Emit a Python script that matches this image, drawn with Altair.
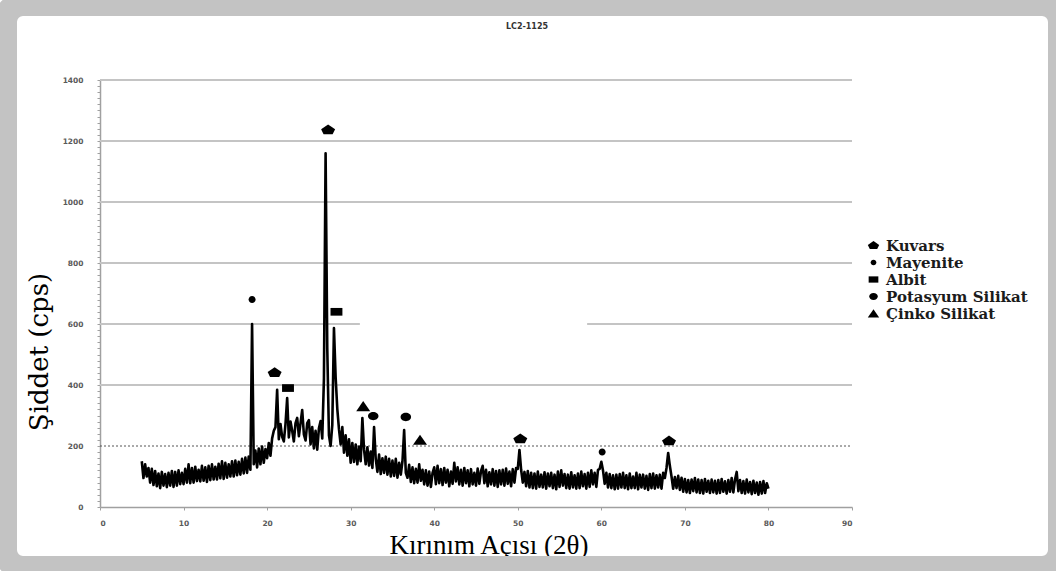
import altair as alt
import pandas as pd

# ---- XRD pattern of sample LC2-1125, 0.2 degree steps from 5.0 degrees 2-theta ----
start_2theta = 5.0
step_2theta = 0.2

counts_05_20 = [
    150, 95, 140, 100, 128,
    80, 125, 72, 118, 68,
    110, 62, 115, 70, 108,
    65, 112, 70, 118, 66,
    115, 70, 120, 75, 112,
    75, 125, 80, 140, 78,
    128, 80, 132, 85, 122,
    84, 135, 86, 130, 82,
    135, 88, 140, 90, 132,
    90, 142, 94, 150, 92,
    145, 96, 140, 100, 150,
    100, 152, 104, 148, 106,
    158, 110, 162, 112, 165,
    122, 600, 140, 185, 130,
    192, 140, 198, 145, 190,
]
counts_20_35 = [
    160, 210, 168, 225, 250,
    262, 384, 222, 272, 230,
    215, 272, 357, 228, 280,
    250, 215, 275, 292, 232,
    275, 318, 238, 218, 275,
    285, 205, 262, 192, 250,
    188, 258, 282, 225, 420,
    1160, 520, 235, 200, 268,
    587, 426, 322, 255, 205,
    262, 178, 235, 168, 222,
    145, 210, 148, 205, 140,
    198, 150, 292, 188, 140,
    196, 136, 182, 128, 262,
    158, 115, 172, 108, 160,
    112, 165, 106, 158, 100,
]
counts_35_50 = [
    152, 102, 158, 96, 145,
    106, 150, 252, 112, 96,
    138, 82, 130, 78, 125,
    80, 140, 86, 122, 74,
    120, 70, 116, 66, 112,
    130, 75, 135, 78, 124,
    72, 128, 80, 122, 68,
    116, 76, 145, 84, 130,
    74, 122, 70, 128, 78,
    120, 68, 124, 74, 112,
    70, 126, 76, 118, 135,
    78, 122, 68, 114, 74,
    124, 70, 118, 66, 120,
    74, 122, 70, 126, 76,
    116, 68, 124, 80, 128,
]
counts_50_65 = [
    125, 187, 122, 80, 115,
    68, 118, 64, 112, 62,
    110, 60, 116, 66, 106,
    64, 114, 60, 110, 68,
    112, 62, 106, 58, 116,
    66, 120, 70, 108, 62,
    106, 60, 114, 64, 104,
    60, 110, 62, 116, 68,
    108, 60, 112, 66, 120,
    74, 112, 66, 122, 125,
    148, 120, 76, 112, 64,
    108, 62, 104, 58, 106,
    60, 108, 64, 112, 62,
    104, 58, 110, 62, 100,
    62, 112, 58, 106, 64,
]
counts_65_80 = [
    106, 60, 102, 56, 108,
    62, 110, 60, 104, 64,
    106, 60, 112, 95, 128,
    177, 135, 100, 60, 98,
    62, 102, 56, 96, 50,
    92, 48, 88, 46, 90,
    52, 95, 48, 90, 46,
    88, 44, 92, 50, 86,
    46, 90, 48, 86, 44,
    88, 46, 92, 50, 84,
    44, 88, 50, 95, 48,
    90, 115, 52, 88, 46,
    85, 44, 90, 48, 82,
    42, 86, 46, 80, 40,
    82, 44, 85, 46, 78,
    60,
]

counts = counts_05_20 + counts_20_35 + counts_35_50 + counts_50_65 + counts_65_80
two_theta = [round(start_2theta + step_2theta * i, 1) for i in range(len(counts))]
pattern = pd.DataFrame({"two_theta": two_theta, "cps": counts})

# ---- identified phases and where their symbols sit ----
phases = ["Kuvars", "Mayenite", "Albit", "Potasyum Silikat", "Çinko Silikat"]
phase_symbols = [
    "M0,-0.8 L1,-0.1 L0.65,0.6 L-0.65,0.6 L-1,-0.1 Z",
    "M-0.5,0 A0.5,0.5 0 1,1 0.5,0 A0.5,0.5 0 1,1 -0.5,0 Z",
    "M-0.85,-0.55 L0.85,-0.55 L0.85,0.55 L-0.85,0.55 Z",
    "M-0.75,0 A0.75,0.6 0 1,1 0.75,0 A0.75,0.6 0 1,1 -0.75,0 Z",
    "M0,-0.75 L1,0.7 L-1,0.7 Z",
]

marker_phase = ["Mayenite", "Kuvars", "Albit", "Kuvars", "Albit", "Çinko Silikat",
                "Potasyum Silikat", "Potasyum Silikat", "Çinko Silikat", "Kuvars",
                "Mayenite", "Kuvars"]
marker_2theta = [18.2, 20.9, 22.5, 27.3, 28.3, 31.5, 32.7, 36.6, 38.3, 50.3, 60.1, 68.1]
marker_cps = [680, 440, 390, 1236, 640, 330, 298, 295, 220, 223, 180, 216]
markers = pd.DataFrame({"two_theta": marker_2theta, "cps": marker_cps, "phase": marker_phase})

# ---- horizontal gridlines (the 600 line is interrupted in the middle) ----
grid_level = [400, 600, 600, 800, 1000, 1200, 1400]
grid_from = [0, 0, 58.3, 0, 0, 0, 0]
grid_to = [90, 31.1, 90, 90, 90, 90, 90]
grid = pd.DataFrame({"level": grid_level, "x0": grid_from, "x1": grid_to})
dotted = pd.DataFrame({"level": [200], "x0": [0], "x1": [90]})

x_ticks = list(range(0, 91, 10))
y_ticks = list(range(0, 1401, 20))

xs = alt.Scale(domain=[0, 90], nice=False)
ys = alt.Scale(domain=[0, 1400], nice=False)

x_axis = alt.Axis(values=x_ticks, format="d", title=None, grid=False,
                  tickSize=3, tickColor="#a0a0a0", domainColor="#a0a0a0", domainWidth=1.5,
                  labelFont="DejaVu Sans", labelFontSize=7.5, labelFontWeight="bold",
                  labelColor="#5a5a5a", labelPadding=9)
y_axis = alt.Axis(values=y_ticks, title=None, grid=False,
                  labelExpr="datum.value % 200 == 0 ? format(datum.value, 'd') : ''",
                  tickSize=3, tickColor="#a0a0a0", domainColor="#a0a0a0", domainWidth=1.5,
                  labelFont="DejaVu Sans", labelFontSize=7.5, labelFontWeight="bold",
                  labelColor="#5a5a5a", labelPadding=14)

grid_layer = alt.Chart(grid).mark_rule(color="#c4c4c4", strokeWidth=1.8).encode(
    x=alt.X("x0:Q", scale=xs, axis=x_axis),
    x2="x1:Q",
    y=alt.Y("level:Q", scale=ys, axis=y_axis),
)

dotted_layer = alt.Chart(dotted).mark_rule(color="#555555", strokeWidth=1, strokeDash=[2, 2]).encode(
    x=alt.X("x0:Q", scale=xs, axis=x_axis),
    x2="x1:Q",
    y=alt.Y("level:Q", scale=ys, axis=y_axis),
)

line_layer = alt.Chart(pattern).mark_line(color="black", strokeWidth=2.6, strokeJoin="round").encode(
    x=alt.X("two_theta:Q", scale=xs, axis=x_axis),
    y=alt.Y("cps:Q", scale=ys, axis=y_axis),
)

phase_legend = alt.Legend(
    title=None, orient="none", legendX=766, legendY=158,
    labelFont="DejaVu Serif", labelFontSize=15, labelFontWeight="bold",
    labelColor="#1b1b1b", labelOffset=5, rowPadding=1, symbolSize=130,
    symbolFillColor="black", symbolStrokeColor="black", symbolStrokeWidth=0,
)

marker_layer = alt.Chart(markers).mark_point(filled=True, color="black", opacity=1, size=196).encode(
    x=alt.X("two_theta:Q", scale=xs, axis=x_axis),
    y=alt.Y("cps:Q", scale=ys, axis=y_axis),
    shape=alt.Shape("phase:N", scale=alt.Scale(domain=phases, range=phase_symbols), legend=phase_legend),
)

title_layer = alt.Chart(pd.DataFrame({"t": ["LC2-1125"]})).mark_text(
    font="DejaVu Sans", fontSize=8, fontWeight="bold", color="#333333",
    align="center", baseline="middle",
).encode(text="t:N", x=alt.value(427), y=alt.value(-53))

x_title_layer = alt.Chart(pd.DataFrame({"t": ["Kırınım Açısı (2θ)"]})).mark_text(
    font="Liberation Serif", fontSize=27, color="black",
    align="center", baseline="alphabetic",
).encode(text="t:N", x=alt.value(389), y=alt.value(474))

y_title_layer = alt.Chart(pd.DataFrame({"t": ["Şiddet (cps)"]})).mark_text(
    font="DejaVu Serif", fontSize=26, color="black",
    align="center", baseline="middle", angle=270,
).encode(text="t:N", x=alt.value(-60), y=alt.value(272))

# grey rounded frame around the whole figure
frame_layer = alt.Chart(pd.DataFrame({"f": [0]})).mark_rect(
    fillOpacity=0, stroke="#c3c3c3", strokeWidth=24, cornerRadius=18,
).encode(x=alt.value(-95), x2=alt.value(960), y=alt.value(-76), y2=alt.value(488))

chart = alt.layer(
    grid_layer, dotted_layer, line_layer, marker_layer,
    title_layer, x_title_layer, y_title_layer, frame_layer,
).properties(
    width=752, height=427,
    autosize="none",
    padding={"left": 100, "top": 80, "right": 204, "bottom": 64},
    background="white",
).configure_view(stroke=None)

chart.save("out.html", embed_options={"renderer": "svg", "actions": False})
